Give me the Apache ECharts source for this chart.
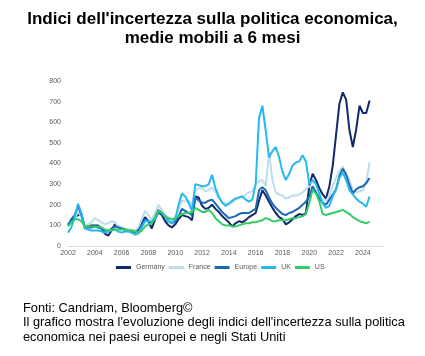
<!DOCTYPE html>
<html>
<head>
<meta charset="utf-8">
<script src="https://cdn.jsdelivr.net/npm/echarts@6/dist/echarts.min.js"></script>
<style>
html,body{margin:0;padding:0;background:#fff;}
#chart{width:425px;height:356px;}
</style>
</head>
<body>
<div id="chart"></div>
<script>
var quarters = [
2002,2002.25,2002.5,2002.75,2003,2003.25,2003.5,2003.75,2004,2004.25,2004.5,2004.75,
2005,2005.25,2005.5,2005.75,2006,2006.25,2006.5,2006.75,2007,2007.25,2007.5,2007.75,
2008,2008.25,2008.5,2008.75,2009,2009.25,2009.5,2009.75,2010,2010.25,2010.5,2010.75,
2011,2011.25,2011.5,2011.75,2012,2012.25,2012.5,2012.75,2013,2013.25,2013.5,2013.75,
2014,2014.25,2014.5,2014.75,2015,2015.25,2015.5,2015.75,2016,2016.25,2016.5,2016.75,
2017,2017.25,2017.5,2017.75,2018,2018.25,2018.5,2018.75,2019,2019.25,2019.5,2019.75,
2020,2020.25,2020.5,2020.75,2021,2021.25,2021.5,2021.75,2022,2022.25,2022.5,2022.75,
2023,2023.25,2023.5,2023.75,2024,2024.25,2024.5
];
var seriesNames = ["Germany","France","Europe","UK","US"];
var germany = [
105,120,140,150, 155,95,95,100, 100,100,85,60, 50,75,105,95, 85,80,75,70, 65,80,110,140,
120,85,130,165, 150,120,100,90, 105,130,150,145, 140,125,240,235, 195,180,185,200, 180,165,145,130,
115,95,110,120, 115,125,140,150, 160,220,270,245, 215,185,160,140, 130,105,115,130, 145,155,150,160,
290,350,320,280, 250,230,290,390, 540,690,745,710, 560,480,565,680, 645,645,705
];
var france = [
95,110,130,170, 140,100,105,115, 135,125,115,105, 110,120,115,95, 90,85,80,80, 75,90,130,170,
150,130,160,200, 175,150,130,120, 140,180,220,215, 220,200,270,280, 280,265,270,285, 260,230,215,205,
205,210,225,235, 240,250,260,265, 300,315,320,290, 455,320,260,250, 245,230,235,245, 245,250,260,275,
290,280,265,245, 225,220,245,290, 330,365,385,350, 320,270,260,265, 270,310,405
];
var europe = [
100,130,150,195, 150,90,90,90, 95,90,85,75, 70,85,95,90, 85,80,75,70, 65,75,100,130,
120,110,140,175, 160,140,120,110, 120,145,180,170, 160,150,235,220, 210,210,220,225, 205,185,165,150,
135,140,145,155, 160,160,160,170, 180,270,285,270, 235,205,185,170, 155,150,160,165, 175,185,200,215,
240,290,260,230, 210,200,225,250, 275,340,375,345, 295,255,275,285, 290,305,330
];
var uk = [
65,90,140,205, 160,85,80,75, 75,75,70,65, 70,75,80,70, 65,70,70,65, 55,60,90,120,
120,120,130,170, 160,140,120,110, 130,200,255,240, 210,170,300,295, 290,290,300,345, 280,240,210,195,
205,220,230,235, 240,225,215,225, 300,620,680,560, 430,460,480,430, 360,320,350,390, 405,410,440,410,
300,320,300,255, 205,185,195,240, 275,330,355,320, 270,250,230,215, 205,190,240
];
var us = [
95,115,130,130, 120,95,95,95, 95,95,90,80, 75,80,80,80, 80,80,75,75, 70,65,75,95,
105,110,140,170, 160,145,135,130, 135,145,155,160, 160,165,185,175, 165,165,175,160, 135,120,105,100,
100,95,95,100, 105,110,110,115, 115,120,125,135, 130,120,120,125, 125,125,130,135, 135,140,145,155,
210,270,255,215, 155,150,155,160, 165,170,175,165, 155,140,130,120, 115,110,118
];
var yTicks = [0,100,200,300,400,500,600,700,800];
var xTickYears = [2002,2004,2006,2008,2010,2012,2014,2016,2018,2020,2022,2024];

var titleLines = ["Indici dell'incertezza sulla politica economica,", "medie mobili a 6 mesi"];
var footerText = "Fonti: Candriam, Bloomberg©\nIl grafico mostra l'evoluzione degli indici dell'incertezza sulla politica\neconomica nei paesi europei e negli Stati Uniti";

var colors = ["#10296B","#BCDDEE","#1D68B3","#28B8F0","#33CC66"];
var allValues = [germany, france, europe, uk, us];
var FONT = "'Liberation Sans', Arial, sans-serif";

function pairs(vals){ return quarters.map(function(q,i){ return [q, vals[i]]; }); }

var titleGraphics = titleLines.map(function(t, i){
  return {
    type:'text', x:212.5, y:10 + i*19,
    style:{text:t, fill:'#000', align:'center', verticalAlign:'top',
      font:"bold 17px 'Liberation Sans', Arial, sans-serif", lineHeight:19}
  };
});

var chart = echarts.init(document.getElementById('chart'), null, {renderer:'canvas'});
chart.setOption({
  animation:false,
  color: colors,
  graphic: titleGraphics.concat([{
    type:'text', x:23, y:301,
    style:{text:footerText, fill:'#000', align:'left', verticalAlign:'top',
      font:"12.8px 'Liberation Sans', Arial, sans-serif", lineHeight:14.5}
  }]),
  legend:{
    data:seriesNames,
    left:111, top:259,
    itemWidth:15, itemHeight:3, itemGap:4,
    icon:'rect',
    textStyle:{fontFamily:FONT,fontSize:7,color:'#595959'}
  },
  grid:{left:68,right:42,top:81,bottom:110,containLabel:false},
  xAxis:{
    type:'value', min:2002, max:2025.5, interval:2,
    axisLine:{show:true,lineStyle:{color:'#D9D9D9',width:1}},
    axisTick:{show:false},
    splitLine:{show:false},
    axisLabel:{fontFamily:FONT,fontSize:7,color:'#595959',margin:4,
      formatter:function(v){ return xTickYears.indexOf(v)>=0 ? String(v) : ''; }}
  },
  yAxis:{
    type:'value', min:yTicks[0], max:yTicks[yTicks.length-1], interval:100,
    axisLine:{show:false}, axisTick:{show:false}, splitLine:{show:false},
    axisLabel:{fontFamily:FONT,fontSize:7,color:'#595959',margin:7}
  },
  series: seriesNames.map(function(n,i){
    return {name:n,type:'line',data:pairs(allValues[i]),symbol:'none',
      lineStyle:{width:2,color:colors[i]},itemStyle:{color:colors[i]}};
  })
});
</script>
</body>
</html>
